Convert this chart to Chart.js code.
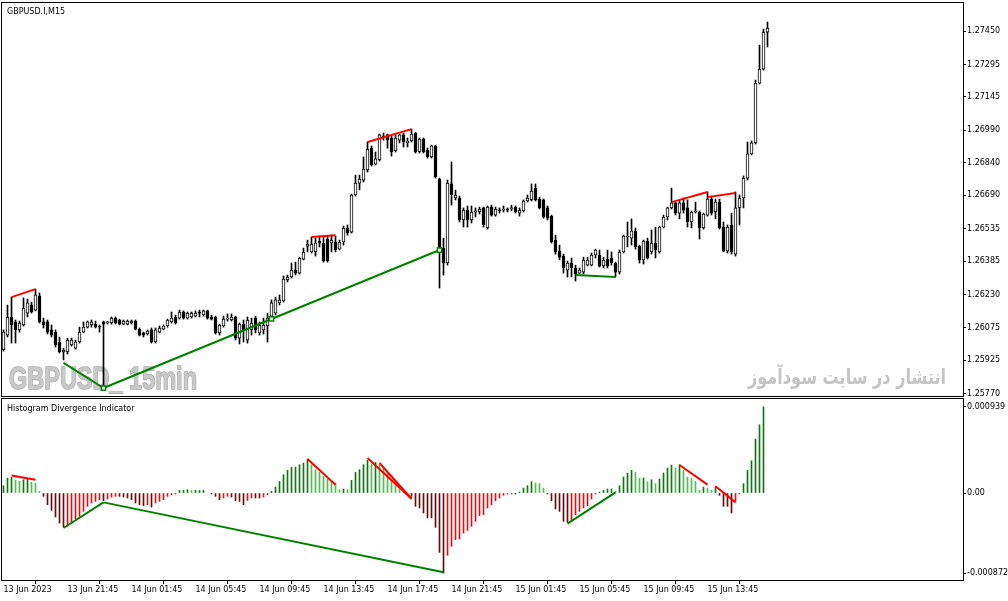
<!DOCTYPE html>
<html>
<head>
<meta charset="utf-8">
<script src="https://cdn.jsdelivr.net/npm/chart.js@4.4.0/dist/chart.umd.min.js"></script>
<style>
html,body{margin:0;padding:0;background:#fff;}
#wrap{position:relative;width:1008px;height:601px;overflow:hidden;}
#price{position:absolute;left:0;top:0;width:1008px;height:398px;}
#hist{position:absolute;left:0;top:398px;width:1008px;height:203px;}
</style>
</head>
<body>
<div id="wrap">
<canvas id="price" width="1008" height="398"></canvas>
<canvas id="hist" width="1008" height="203"></canvas>
</div>
<script>
// GBPUSD M15 candles, 13 Jun 17:45 .. 15 Jun 17:30
const opens = [
1.25973,1.26042,1.26126,1.26103,1.26066,1.26089,1.26144,1.26181,1.26158,1.26223,
1.26103,1.26103,1.26066,1.26056,1.26010,1.25964,1.25964,1.25996,1.25982,1.26010,
1.26056,1.26079,1.26089,1.26093,1.26084,1.26103,1.26098,1.26098,1.26121,1.26112,
1.26093,1.26093,1.26098,1.26107,1.26070,1.26052,1.26047,1.26066,1.26010,1.26056,
1.26070,1.26084,1.26103,1.26126,1.26121,1.26149,1.26121,1.26126,1.26130,1.26149,
1.26135,1.26154,1.26126,1.26126,1.26052,1.26084,1.26116,1.26112,1.26126,1.26028,
1.26093,1.26019,1.26066,1.26121,1.26052,1.26066,1.26084,1.26130,1.26144,1.26191,
1.26200,1.26297,1.26311,1.26343,1.26329,1.26394,1.26454,1.26427,1.26427,1.26478,
1.26468,1.26487,1.26468,1.26473,1.26440,1.26473,1.26538,1.26519,1.26691,1.26746,
1.26760,1.26807,1.26908,1.26834,1.26853,1.26964,1.26969,1.26955,1.26895,1.26945,
1.26969,1.26932,1.26941,1.26978,1.26890,1.26950,1.26899,1.26867,1.26918,1.26765,
1.26445,1.26376,1.26742,1.26677,1.26677,1.26575,1.26621,1.26575,1.26612,1.26612,
1.26631,1.26538,1.26635,1.26598,1.26621,1.26621,1.26626,1.26626,1.26635,1.26607,
1.26617,1.26663,1.26668,1.26723,1.26672,1.26668,1.26631,1.26593,1.26482,1.26431,
1.26408,1.26343,1.26376,1.26353,1.26329,1.26334,1.26366,1.26366,1.26413,1.26413,
1.26362,1.26394,1.26399,1.26376,1.26334,1.26427,1.26496,1.26491,1.26524,1.26454,
1.26390,1.26478,1.26427,1.26468,1.26427,1.26542,1.26589,1.26631,1.26654,1.26607,
1.26654,1.26631,1.26566,1.26612,1.26612,1.26538,1.26598,1.26672,1.26612,1.26658,
1.26542,1.26431,1.26552,1.26417,1.26631,1.26677,1.26769,1.26881,1.26932,1.27209,
1.27274,1.27445];
const highs = [
1.26066,1.26181,1.26218,1.26112,1.26107,1.26214,1.26209,1.26195,1.26255,1.26237,
1.26121,1.26112,1.26089,1.26066,1.26033,1.25982,1.26028,1.26028,1.26019,1.26079,
1.26103,1.26107,1.26112,1.26107,1.26089,1.26107,1.26107,1.26126,1.26126,1.26116,
1.26112,1.26112,1.26112,1.26112,1.26075,1.26056,1.26066,1.26075,1.26075,1.26084,
1.26089,1.26116,1.26149,1.26135,1.26158,1.26154,1.26149,1.26149,1.26154,1.26158,
1.26158,1.26158,1.26135,1.26130,1.26093,1.26130,1.26140,1.26140,1.26130,1.26098,
1.26112,1.26126,1.26121,1.26130,1.26103,1.26121,1.26144,1.26205,1.26218,1.26228,
1.26316,1.26320,1.26376,1.26380,1.26403,1.26445,1.26482,1.26496,1.26491,1.26496,
1.26501,1.26501,1.26505,1.26501,1.26482,1.26547,1.26552,1.26695,1.26783,1.26783,
1.26867,1.26936,1.26918,1.26890,1.26973,1.26978,1.26973,1.26964,1.26969,1.26973,
1.26978,1.26955,1.26996,1.26982,1.26955,1.26955,1.26908,1.26922,1.26922,1.26769,
1.26491,1.26760,1.26844,1.26714,1.26686,1.26631,1.26640,1.26640,1.26631,1.26635,
1.26635,1.26640,1.26644,1.26635,1.26631,1.26640,1.26631,1.26644,1.26640,1.26631,
1.26668,1.26691,1.26742,1.26742,1.26681,1.26672,1.26640,1.26598,1.26505,1.26459,
1.26417,1.26385,1.26399,1.26366,1.26353,1.26403,1.26403,1.26422,1.26440,1.26436,
1.26403,1.26436,1.26427,1.26380,1.26436,1.26505,1.26566,1.26580,1.26538,1.26459,
1.26482,1.26491,1.26529,1.26542,1.26547,1.26598,1.26635,1.26723,1.26658,1.26668,
1.26677,1.26668,1.26617,1.26658,1.26617,1.26607,1.26705,1.26686,1.26672,1.26672,
1.26566,1.26552,1.26607,1.26705,1.26691,1.26779,1.26936,1.26941,1.27223,1.27385,
1.27459,1.27492];
const lows = [
1.25968,1.26033,1.26005,1.26005,1.26056,1.26084,1.26126,1.26144,1.26154,1.26098,
1.26075,1.26047,1.26033,1.25987,1.25959,1.25927,1.25954,1.25991,1.25977,1.26005,
1.26052,1.26075,1.26079,1.26075,1.26056,1.25797,1.26093,1.26093,1.26093,1.26089,
1.26089,1.26089,1.26093,1.26066,1.26038,1.26033,1.26042,1.26005,1.26005,1.26052,
1.26066,1.26079,1.26098,1.26093,1.26116,1.26116,1.26116,1.26121,1.26126,1.26126,
1.26130,1.26116,1.26112,1.26047,1.26042,1.26079,1.26107,1.26107,1.26019,1.26001,
1.26010,1.26005,1.26042,1.26052,1.26042,1.26047,1.26010,1.26116,1.26135,1.26181,
1.26195,1.26288,1.26306,1.26320,1.26325,1.26390,1.26427,1.26422,1.26408,1.26450,
1.26380,1.26380,1.26427,1.26427,1.26436,1.26459,1.26505,1.26515,1.26686,1.26714,
1.26751,1.26797,1.26825,1.26830,1.26848,1.26945,1.26908,1.26871,1.26890,1.26932,
1.26913,1.26913,1.26936,1.26885,1.26885,1.26885,1.26862,1.26862,1.26769,1.26260,
1.26320,1.26366,1.26644,1.26668,1.26566,1.26542,1.26542,1.26561,1.26589,1.26603,
1.26542,1.26533,1.26593,1.26593,1.26607,1.26612,1.26612,1.26617,1.26607,1.26593,
1.26612,1.26658,1.26663,1.26663,1.26626,1.26584,1.26575,1.26468,1.26417,1.26390,
1.26329,1.26311,1.26311,1.26292,1.26325,1.26325,1.26362,1.26362,1.26399,1.26357,
1.26353,1.26353,1.26366,1.26311,1.26325,1.26422,1.26450,1.26459,1.26440,1.26376,
1.26371,1.26394,1.26417,1.26399,1.26422,1.26538,1.26575,1.26626,1.26598,1.26580,
1.26607,1.26542,1.26538,1.26607,1.26487,1.26533,1.26593,1.26598,1.26580,1.26533,
1.26427,1.26422,1.26417,1.26408,1.26552,1.26631,1.26760,1.26876,1.26927,1.27205,
1.27269,1.27376];
const closes = [
1.26056,1.26126,1.26089,1.26066,1.26098,1.26167,1.26191,1.26149,1.26228,1.26103,
1.26089,1.26056,1.26042,1.25996,1.25964,1.25973,1.26019,1.26019,1.26010,1.26056,
1.26079,1.26103,1.26103,1.26079,1.26079,1.26093,1.26103,1.26121,1.26098,1.26093,
1.26107,1.26107,1.26107,1.26070,1.26042,1.26042,1.26061,1.26010,1.26066,1.26075,
1.26084,1.26112,1.26121,1.26098,1.26149,1.26121,1.26144,1.26144,1.26144,1.26144,
1.26154,1.26121,1.26116,1.26052,1.26089,1.26116,1.26121,1.26126,1.26028,1.26093,
1.26066,1.26112,1.26098,1.26066,1.26089,1.26089,1.26121,1.26191,1.26205,1.26205,
1.26302,1.26311,1.26343,1.26329,1.26399,1.26427,1.26464,1.26464,1.26468,1.26468,
1.26385,1.26385,1.26482,1.26436,1.26473,1.26538,1.26515,1.26691,1.26746,1.26765,
1.26811,1.26904,1.26830,1.26858,1.26969,1.26959,1.26945,1.26890,1.26955,1.26969,
1.26936,1.26941,1.26973,1.26890,1.26950,1.26890,1.26867,1.26918,1.26774,1.26445,
1.26376,1.26746,1.26691,1.26691,1.26575,1.26621,1.26575,1.26612,1.26617,1.26626,
1.26552,1.26635,1.26598,1.26626,1.26617,1.26626,1.26621,1.26631,1.26612,1.26621,
1.26663,1.26677,1.26709,1.26668,1.26631,1.26589,1.26584,1.26473,1.26427,1.26403,
1.26353,1.26376,1.26353,1.26325,1.26343,1.26390,1.26390,1.26413,1.26436,1.26362,
1.26390,1.26362,1.26376,1.26334,1.26427,1.26501,1.26501,1.26524,1.26450,1.26390,
1.26478,1.26399,1.26468,1.26436,1.26542,1.26589,1.26631,1.26654,1.26607,1.26654,
1.26621,1.26566,1.26612,1.26617,1.26538,1.26603,1.26672,1.26607,1.26658,1.26538,
1.26431,1.26542,1.26427,1.26631,1.26677,1.26769,1.26881,1.26932,1.27209,1.27274,
1.27445,1.27464];

// Histogram Divergence Indicator values (one per bar, last bar not drawn)
const histValues = [
0.000080,0.000163,0.000171,0.000138,0.000127,0.000145,0.000152,0.000116,0.000109,0.000018,
-0.000036,-0.000127,-0.000189,-0.000261,-0.000327,-0.000370,-0.000363,-0.000327,-0.000280,-0.000254,
-0.000200,-0.000145,-0.000109,-0.000091,-0.000073,-0.000083,-0.000065,-0.000044,-0.000036,-0.000036,
-0.000044,-0.000054,-0.000073,-0.000109,-0.000127,-0.000138,-0.000127,-0.000152,-0.000109,-0.000091,
-0.000073,-0.000036,-0.000018,-0.000007,0.000029,0.000029,0.000036,0.000029,0.000029,0.000029,
0.000029,null,-0.000007,-0.000036,-0.000073,-0.000054,-0.000036,-0.000044,-0.000083,-0.000091,
-0.000127,-0.000080,-0.000054,-0.000054,-0.000054,-0.000044,-0.000018,0.000018,0.000065,0.000127,
0.000200,0.000247,0.000283,0.000283,0.000309,0.000327,0.000370,0.000309,0.000254,0.000225,
0.000182,0.000152,0.000116,0.000109,0.000036,0.000044,0.000036,0.000138,0.000225,0.000254,
0.000309,0.000356,0.000319,0.000334,0.000309,0.000272,0.000218,0.000138,0.000080,0.000044,
0.000004,-0.000007,-0.000036,-0.000145,-0.000163,-0.000218,-0.000272,-0.000272,-0.000374,-0.000646,
-0.000872,-0.000679,-0.000581,-0.000508,-0.000501,-0.000436,-0.000407,-0.000363,-0.000309,-0.000247,
-0.000236,-0.000163,-0.000127,-0.000083,-0.000054,-0.000025,-0.000007,-0.000004,-0.000004,0.000007,
0.000054,0.000080,0.000123,0.000109,0.000102,0.000054,-0.000007,-0.000083,-0.000174,-0.000200,
-0.000309,-0.000319,-0.000290,-0.000236,-0.000200,-0.000163,-0.000138,-0.000065,-0.000007,0.000007,
0.000029,0.000044,0.000044,0.000018,0.000080,0.000174,0.000218,0.000247,0.000225,0.000160,
0.000163,0.000123,0.000145,0.000102,0.000152,0.000218,0.000272,0.000305,0.000272,0.000309,
0.000247,0.000174,0.000160,0.000127,0.000029,0.000065,0.000054,0.000029,0.000065,-0.000025,
-0.000145,-0.000145,-0.000218,-0.000091,-0.000011,0.000102,0.000247,0.000352,0.000588,0.000744,
0.000939,null];

// divergence lines: [fromBar, fromValue, toBar, toValue]
const priceBearLines = [[2,1.26218,8,1.26255],[77,1.26496,83,1.26505],[91,1.26936,102,1.26996],[167,1.26658,176,1.26705],[176,1.26681,183,1.26700]];
const priceBullLines = [[15,1.25913,25,1.25797],[25,1.25797,109,1.26436],[143,1.26320,153,1.26311]];
const priceMarks = [[25,1.25797],[67,1.26117],[109,1.26436]];
const histBearLines = [[2,0.000192,8,0.000145],[76,0.000370,83,0.000091],[91,0.000381,102,-0.000062],[94,0.000327,102,-0.000062],[169,0.000305,176,0.000091],[178,0.000073,183,-0.000102]];
const histBullLines = [[15,-0.000381,25,-0.000102],[25,-0.000102,110,-0.000864],[141,-0.000334,153,0.000007]];

const priceTicks = [1.27450,1.27295,1.27145,1.26990,1.26840,1.26690,1.26535,1.26385,1.26230,1.26075,1.25925,1.25770];
const histTicks = [0.000939,0,-0.000872];
const histTickLabels = ["0.000939","0.00","-0.000872"];
const timeTickBars = [0,16,32,48,64,80,96,112,128,144,160,176];
const timeTickLabels = ["13 Jun 2023","13 Jun 21:45","14 Jun 01:45","14 Jun 05:45","14 Jun 09:45","14 Jun 13:45","14 Jun 17:45","14 Jun 21:45","15 Jun 01:45","15 Jun 05:45","15 Jun 09:45","15 Jun 13:45"];

const FONT = 'DejaVu Sans';
const xMin = -0.375, xMax = 239.875;
const bars = opens.map((o, i) => i);

const framePlugin = {
    id: 'frame',
    afterDraw(chart) {
        const a = chart.chartArea, ctx = chart.ctx;
        ctx.save();
        ctx.strokeStyle = '#000';
        ctx.lineWidth = 1;
        ctx.strokeRect(Math.round(a.left) - 0.5, Math.round(a.top) - 0.5, Math.round(a.right - a.left) + 1, Math.round(a.bottom - a.top) + 1);
        ctx.restore();
    }
};

function fitText(ctx, text, font, color, x, y, w, edge) {
    ctx.save();
    ctx.font = font;
    ctx.fillStyle = color;
    ctx.textAlign = 'left';
    ctx.textBaseline = 'alphabetic';
    const k = w / ctx.measureText(text).width;
    ctx.translate(x, y);
    ctx.scale(k, 1);
    if (edge) {
        ctx.strokeStyle = edge;
        ctx.lineWidth = 1.6;
        ctx.lineJoin = 'round';
        ctx.strokeText(text, 0, 0);
    }
    ctx.fillText(text, 0, 0);
    ctx.restore();
}

function lineSets(list, color) {
    return list.map(l => ({
        type: 'line', data: [{x: l[0], y: l[1]}, {x: l[2], y: l[3]}],
        borderColor: color, borderWidth: 2, pointRadius: 0, order: 0
    }));
}

const priceText = {
    id: 'priceText',
    beforeDatasetsDraw(chart) {
        const ctx = chart.ctx;
        fitText(ctx, 'GBPUSD_ 15min', 'bold 32px "Liberation Sans"', '#c8c8c8', 9, 389, 188, '#adadad');
        ctx.save(); ctx.direction = 'rtl';
        fitText(ctx, 'انتشار در سایت سودآموز', 'bold 21px "DejaVu Sans"', '#c4c4c4', 748, 384, 198);
        ctx.restore();
        ctx.save();
        ctx.font = '8px "' + FONT + '"';
        ctx.fillStyle = '#000';
        ctx.textBaseline = 'middle';
        ctx.fillText('GBPUSD.I,M15', 7, 12);
        ctx.restore();
    }
};

const histText = {
    id: 'histText',
    beforeDatasetsDraw(chart) {
        const ctx = chart.ctx;
        ctx.save();
        ctx.font = '8px "' + FONT + '"';
        ctx.fillStyle = '#000';
        ctx.textBaseline = 'middle';
        ctx.fillText('Histogram Divergence Indicator', 7, 11);
        ctx.restore();
    }
};

const axisFont = {family: FONT, size: 8};

new Chart(document.getElementById('price'), {
    type: 'bar',
    data: {
        datasets: [
            {
                data: bars.map(i => ({x: i, y: [opens[i], closes[i]]})),
                backgroundColor: bars.map(i => closes[i] >= opens[i] ? '#fff' : '#000'),
                borderColor: '#000', borderWidth: 1, borderSkipped: false,
                barThickness: 3, grouped: false, minBarLength: 1, order: 1
            },
            {
                data: bars.map(i => ({x: i, y: [lows[i], highs[i]]})),
                backgroundColor: '#000', barThickness: 1, grouped: false, order: 2
            },
            ...lineSets(priceBearLines, '#ff0000'),
            ...lineSets(priceBullLines, '#008000'),
            {
                type: 'line', showLine: false,
                data: priceMarks.map(m => ({x: m[0], y: m[1]})),
                pointStyle: 'rect', pointRadius: 3, borderColor: '#008000',
                backgroundColor: '#fff', borderWidth: 1.5, order: -1
            }
        ]
    },
    options: {
        responsive: false, animation: false, devicePixelRatio: 1,
        layout: {autoPadding: false, padding: {left: 2, top: 3, right: 0, bottom: 2}},
        plugins: {legend: {display: false}, tooltip: {enabled: false}},
        events: [],
        scales: {
            x: {type: 'linear', display: false, offset: false, bounds: 'ticks', min: xMin, max: xMax},
            y: {
                position: 'right', min: 1.25760, max: 1.27580,
                afterBuildTicks: s => { s.ticks = priceTicks.map(v => ({value: v})); },
                afterFit: s => { s.width = 45; s.paddingTop = 0; s.paddingBottom = 0; },
                ticks: {callback: v => v.toFixed(5), color: '#000', font: axisFont, padding: 1, autoSkip: false},
                grid: {drawOnChartArea: false, drawTicks: true, tickLength: 3, color: '#000'},
                border: {display: false}
            }
        }
    },
    plugins: [priceText, framePlugin]
});

const histColors = histValues.map((v, i) => {
    const prev = i > 0 && histValues[i - 1] !== null ? histValues[i - 1] : 0;
    if (v >= 0) return v >= prev ? '#008000' : '#3ccc3c';
    return v <= prev ? '#800000' : '#ff0000';
});

new Chart(document.getElementById('hist'), {
    type: 'bar',
    data: {
        datasets: [
            {
                data: histValues.map((v, i) => ({x: i, y: v})),
                backgroundColor: histColors, barThickness: 1, grouped: false,
                minBarLength: 1, order: 2
            },
            ...lineSets(histBearLines, '#ff0000'),
            ...lineSets(histBullLines, '#008000')
        ]
    },
    options: {
        responsive: false, animation: false, devicePixelRatio: 1,
        layout: {autoPadding: false, padding: {left: 2, top: 1, right: 0, bottom: 0}},
        plugins: {legend: {display: false}, tooltip: {enabled: false}},
        events: [],
        scales: {
            x: {
                type: 'linear', min: xMin, max: xMax, position: 'bottom', offset: false,
                afterBuildTicks: s => { s.ticks = timeTickBars.map(v => ({value: v})); },
                afterFit: s => { s.height = 21; s.paddingLeft = 0; s.paddingRight = 0; },
                ticks: {
                    callback: v => timeTickLabels[timeTickBars.indexOf(v)],
                    align: 'start', maxRotation: 0, minRotation: 0, autoSkip: false,
                    padding: 1, color: '#000', font: axisFont
                },
                grid: {drawOnChartArea: false, drawTicks: true, tickLength: 4, color: '#000'},
                border: {display: false}
            },
            y: {
                position: 'right', min: -0.000948, max: 0.001025,
                afterBuildTicks: s => { s.ticks = histTicks.map(v => ({value: v})); },
                afterFit: s => { s.width = 45; s.paddingTop = 0; s.paddingBottom = 0; },
                ticks: {callback: (v, i) => histTickLabels[i], color: '#000', font: axisFont, padding: 1, autoSkip: false},
                grid: {drawOnChartArea: false, drawTicks: true, tickLength: 3, color: '#000'},
                border: {display: false}
            }
        }
    },
    plugins: [histText, framePlugin]
});
</script>
</body>
</html>
